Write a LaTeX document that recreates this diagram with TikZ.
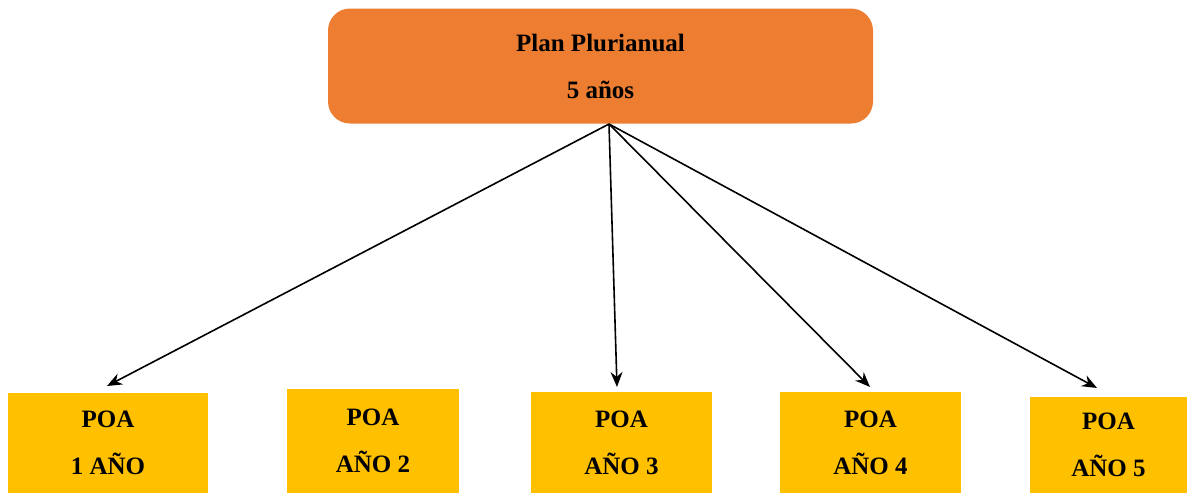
\documentclass[tikz,border=0pt]{standalone}
\usepackage{fontspec}
\setmainfont{Liberation Serif}
\usetikzlibrary{arrows.meta}
\definecolor{plorange}{HTML}{ED7D31}
\definecolor{poayellow}{HTML}{FFC000}
\begin{document}
\begin{tikzpicture}[x=0.5pt,y=-0.5pt,
  txt/.style={font=\fontsize{12.5}{23.5}\selectfont\bfseries, align=center, inner sep=0pt},
  poabox/.style={txt, fill=poayellow, minimum height=50pt},
  planbox/.style={txt, fill=plorange, rounded corners=11pt},
  arr/.style={line width=0.8pt, -{Stealth[length=7.5pt,width=6pt]}}]
\useasboundingbox (0,0) rectangle (1196,493);
\node[planbox, minimum width=272.5pt, minimum height=57.5pt] (plan) at (600.5,66) {Plan Plurianual\\5 años};
\node[poabox, minimum width=100pt, minimum height=50pt] (p1) at (108,443) {POA\\1 AÑO};
\node[poabox, minimum width=86pt, minimum height=52pt] (p2) at (373,441) {POA\\AÑO 2};
\node[poabox, minimum width=90.5pt, minimum height=50.5pt] (p3) at (621.5,442.5) {POA\\AÑO 3};
\node[poabox, minimum width=90.5pt, minimum height=50.5pt] (p4) at (870.5,442.5) {POA\\AÑO 4};
\node[poabox, minimum width=78.5pt, minimum height=48pt] (p5) at (1108.5,445) {POA\\AÑO 5};
\coordinate (src) at (609,124);
\coordinate (t1) at (107,386);
\coordinate (t3) at (617,387);
\coordinate (t4) at (870,387);
\coordinate (t5) at (1097,388);
\draw[arr] (src) -- (t1);
\draw[arr] (src) -- (t3);
\draw[arr] (src) -- (t4);
\draw[arr] (src) -- (t5);
\end{tikzpicture}
\end{document}
